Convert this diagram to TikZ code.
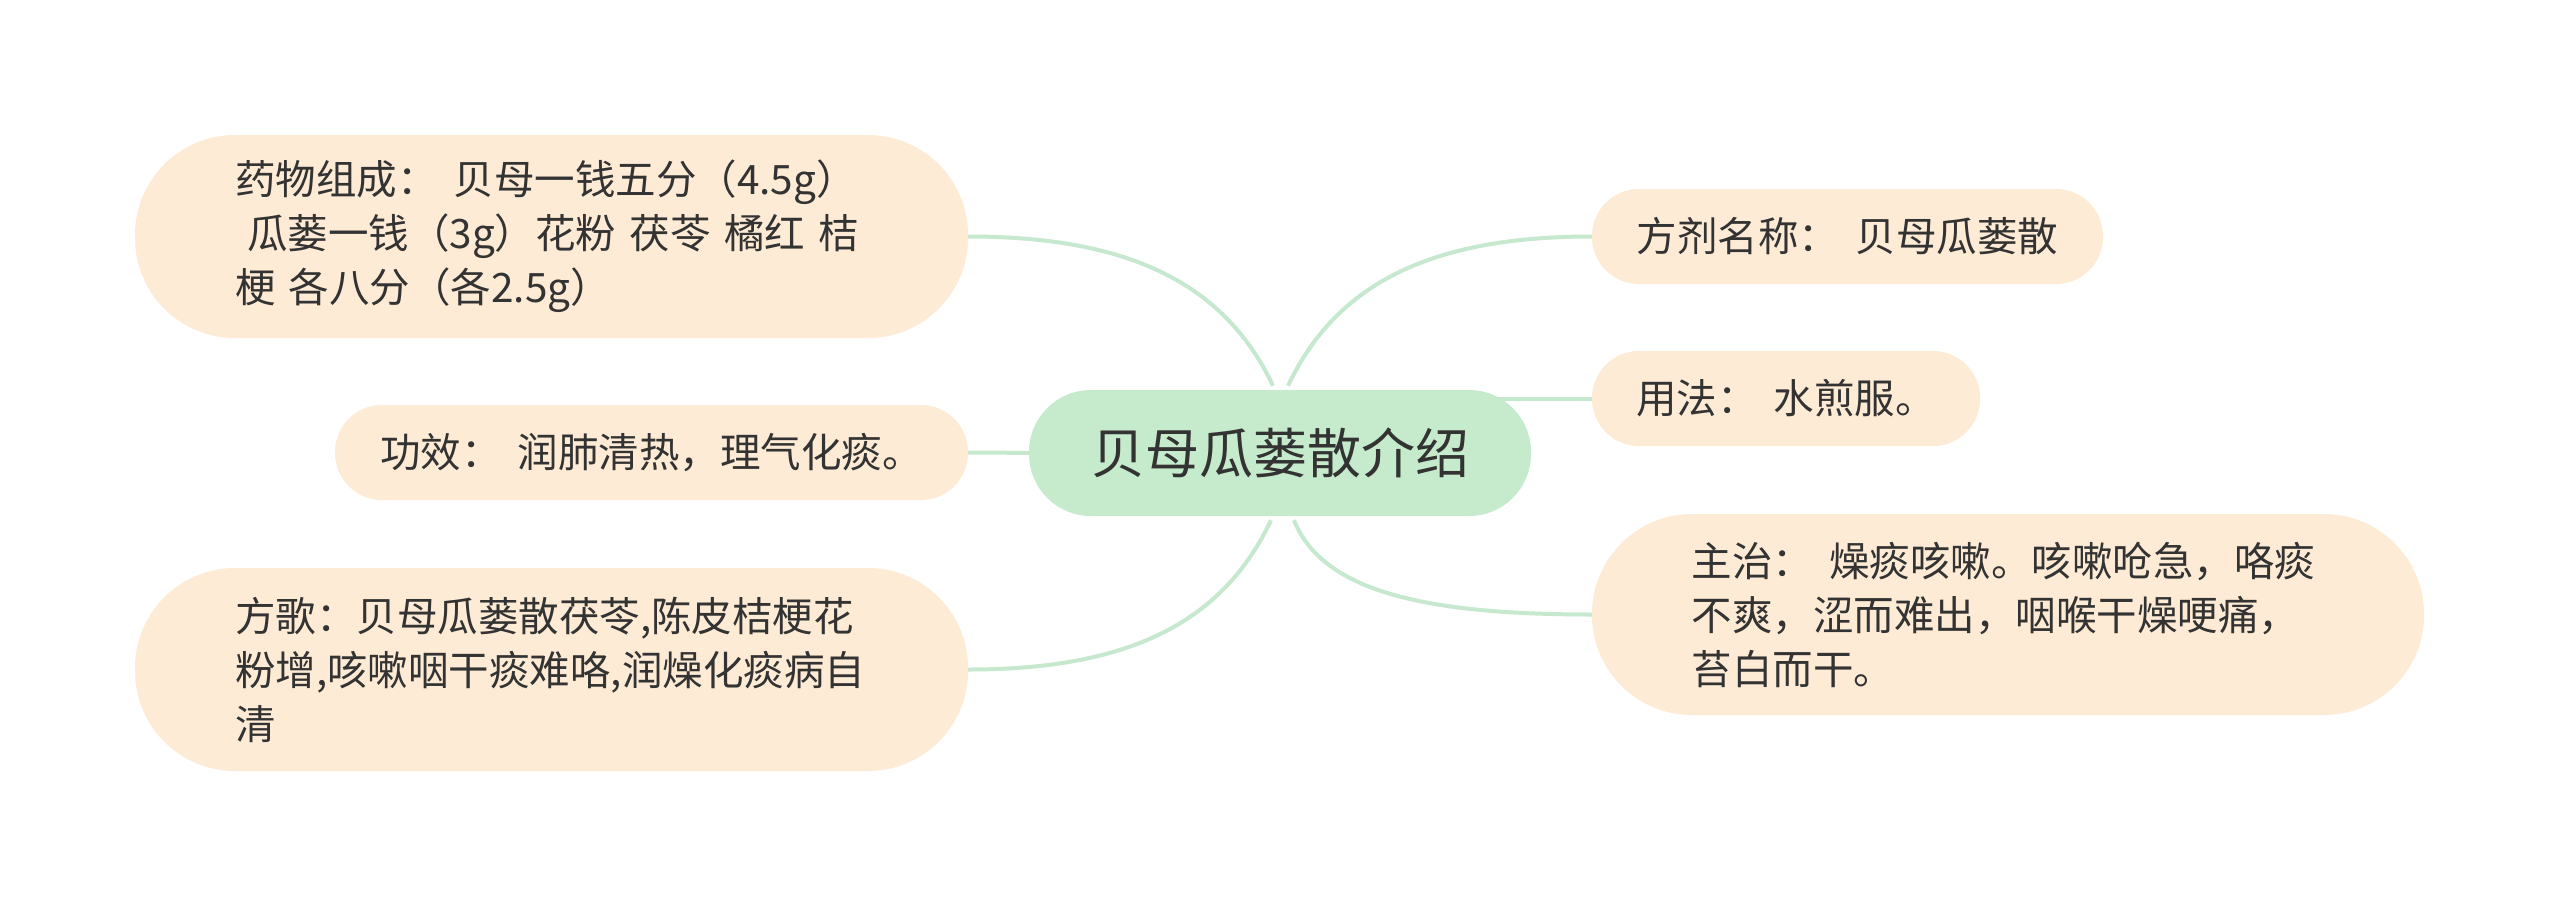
\documentclass[tikz,border=0pt]{standalone}
\usepackage{fontspec}
\setmainfont{Noto Sans CJK SC}
\usetikzlibrary{backgrounds}
\definecolor{boxfill}{HTML}{FDEBD5}
\definecolor{centerfill}{HTML}{C5EBCC}
\definecolor{linkcol}{HTML}{C6E8CE}
\definecolor{txt}{HTML}{333333}
\tikzset{
  topic/.style={fill=centerfill, text=txt, rounded corners=62pt, minimum width=502pt, minimum height=126pt, inner sep=0pt, font=\fontsize{54pt}{60pt}\selectfont},
  leafone/.style={fill=boxfill, text=txt, rounded corners=47pt, minimum height=95pt, inner sep=0pt, align=center, font=\fontsize{40.5pt}{55pt}\selectfont},
  leafmulti/.style={fill=boxfill, text=txt, rounded corners=100pt, minimum width=833pt, minimum height=203pt, inner sep=0pt, text width=633pt, align=left, font=\fontsize{40.5pt}{54pt}\selectfont},
  link/.style={draw=linkcol, line width=4pt}
}
\newcommand{\gap}{\hspace{0.4em}}
\begin{document}
\begin{tikzpicture}[x=1pt,y=-1pt]
\useasboundingbox (0,0) rectangle (2560,906);
\node[topic] (c) at (1280,453) {贝母瓜蒌散介绍};
\node[leafmulti] (n1) at (551.5,236.5) {药物组成：\gap 贝母一钱五分（4.5g）\\\hspace*{0.3em}瓜蒌一钱（3g）花粉 茯苓 橘红 桔\\梗 各八分（各2.5g）};
\node[leafone, minimum width=633pt] (n2) at (651.5,452.5) {功效：\gap 润肺清热，理气化痰。};
\node[leafmulti] (n3) at (551.5,669.5) {方歌：贝母瓜蒌散茯苓,陈皮桔梗花\\粉增,咳嗽咽干痰难咯,润燥化痰病自\\清};
\node[leafone, minimum width=511pt] (r1) at (1847.5,236.5) {方剂名称：\gap 贝母瓜蒌散};
\node[leafone, minimum width=388pt] (r2) at (1786,398.5) {用法：\gap 水煎服。};
\node[leafmulti, minimum width=832pt, minimum height=201pt] (r3) at (2008,614.5) {主治：\gap 燥痰咳嗽。咳嗽呛急，咯痰\\不爽，涩而难出，咽喉干燥哽痛，\\苔白而干。};
\begin{pgfonlayer}{background}
\fill[white] (0,0) rectangle (2560,906);
\draw[link] ([xshift=-7pt,yshift=4pt]c.north) .. controls +(-50,-106) and +(155,0) .. (n1.east);
\draw[link] ([xshift=8pt,yshift=4pt]c.north) .. controls +(50,-106) and +(-155,0) .. (r1.west);
\draw[link] ([xshift=-9pt,yshift=-4pt]c.south) .. controls +(-50,106) and +(155,0) .. (n3.east);
\draw[link] ([xshift=14pt,yshift=-4pt]c.south) .. controls +(28,70) and +(-171,0) .. (r3.west);
\draw[link] ([xshift=20pt]c.west) -- (n2.east);
\draw[link] (r2.west) -- ++(-130,0);
\end{pgfonlayer}
\end{tikzpicture}
\end{document}
